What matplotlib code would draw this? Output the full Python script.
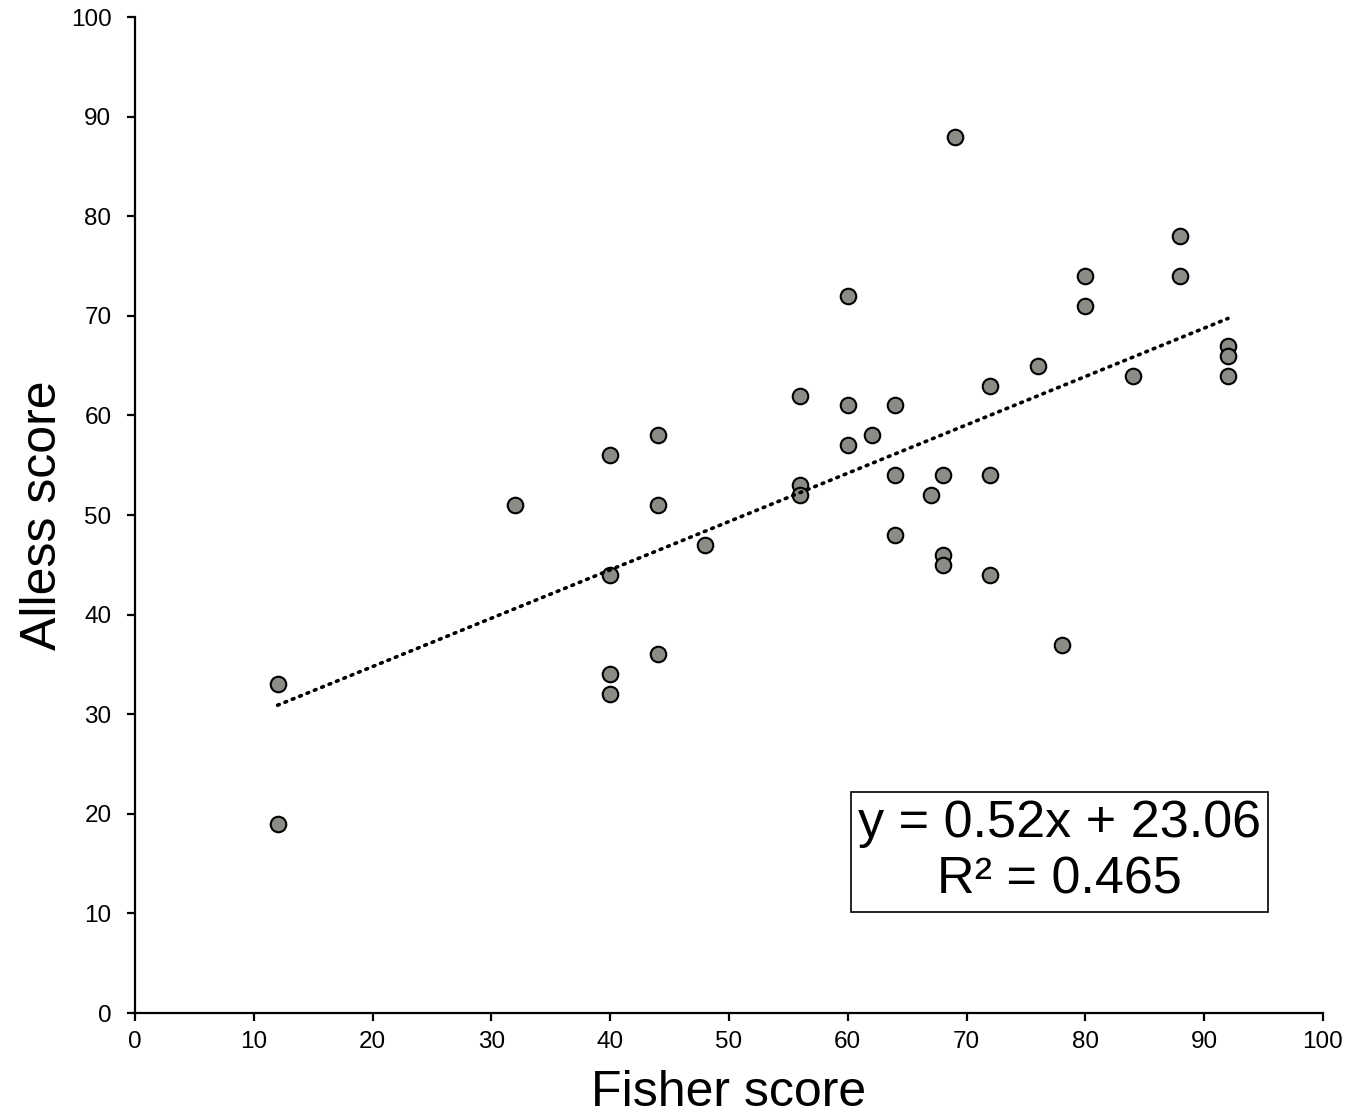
import matplotlib
matplotlib.use("Agg")
import matplotlib.pyplot as plt
import numpy as np

plt.rcParams["font.family"] = ["Liberation Sans", "DejaVu Sans"]

# Fisher score vs Alless score
fisher = [12, 12, 32, 40, 40, 40, 40, 44, 44, 44, 48, 56, 56, 56, 60, 60, 60, 62,
          64, 64, 64, 67, 68, 68, 68, 69, 72, 72, 72, 76, 78, 80, 80, 84, 88, 88,
          92, 92, 92]
alless = [33, 19, 51, 56, 44, 34, 32, 58, 51, 36, 47, 62, 53, 52, 72, 61, 57, 58,
          61, 54, 48, 52, 54, 46, 45, 88, 63, 54, 44, 65, 37, 74, 71, 64, 78, 74,
          67, 66, 64]

# equation as printed on the chart
slope_label = 0.52
intercept_label = 23.06
r_squared = 0.465

fig = plt.figure(figsize=(13.5, 11.2), dpi=100)
ax = fig.add_axes([0.1, 0.0955, 0.88, 0.8893])

ax.scatter(fisher, alless, s=125, color="#8c8c87", edgecolor="black",
           linewidth=1.5, zorder=3)

# linear trendline fitted to the points
fit = np.polyfit(fisher, alless, 1)
x_fit = np.array([min(fisher), max(fisher)])
ax.plot(x_fit, np.polyval(fit, x_fit), color="black", linewidth=2.6,
        linestyle=(0, (0.5, 1.7)), dash_capstyle="round", zorder=4)

ax.text(77.8, 16.2,
        f"y = {slope_label:.2f}x + {intercept_label:.2f}\nR² = {r_squared:.3f}",
        fontsize=37.5, ha="center", va="center", linespacing=1.22,
        bbox=dict(boxstyle="square,pad=0.13", facecolor="white",
                  edgecolor="black", linewidth=1.2), zorder=5)

ax.set_xlim(0, 100)
ax.set_ylim(0, 100)
ax.set_xticks(range(0, 101, 10))
ax.set_yticks(range(0, 101, 10))
ax.spines["top"].set_visible(False)
ax.spines["right"].set_visible(False)
for side in ["left", "bottom"]:
    ax.spines[side].set_linewidth(1.6)
ax.tick_params(direction="out", length=6, width=1.6, labelsize=17.5)
ax.tick_params(axis="x", pad=7)
ax.tick_params(axis="y", pad=11)

ax.set_xlabel("Fisher score", fontsize=36, labelpad=12)
ax.set_ylabel("Alless score", fontsize=36, labelpad=3)

fig.savefig("out.png", dpi=100)
